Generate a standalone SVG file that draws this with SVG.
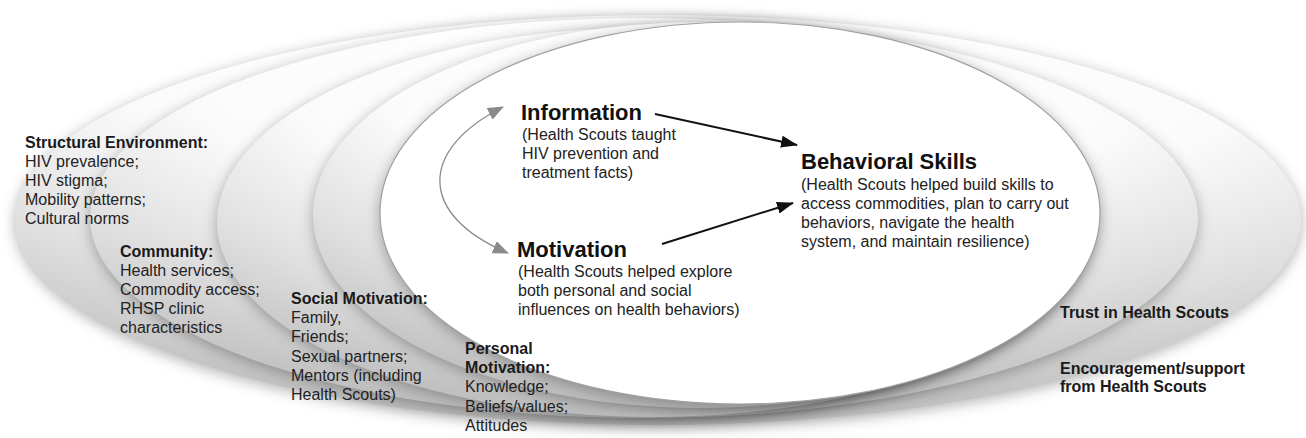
<svg xmlns="http://www.w3.org/2000/svg" width="1306" height="438" viewBox="0 0 1306 438">
  <defs>
    <style>
      text { font-family: "Liberation Sans", Arial, sans-serif; fill: #222; }
      .lbl { font-size: 16px; }
      .side { font-size: 16px; }
      .hd { font-weight: bold; fill: #1a1a1a; }
      .ttl { font-size: 22px; font-weight: bold; fill: #111; }
      .desc { font-size: 16px; }
      .ring { fill: url(#ringFill); filter: url(#ringShadow); }
      .core { fill: #ffffff; stroke: #a0a0a0; stroke-width: 1.2; filter: url(#ringShadow); }
      .link { fill: none; stroke: #111; stroke-width: 2; marker-end: url(#headBlack); }
      .loop { fill: none; stroke: #8a8a8a; stroke-width: 1.3; marker-start: url(#headGray); marker-end: url(#headGray); }
    </style>
    <!-- glossy ring fill: bright near the top, greying toward the lower rim -->
    <radialGradient id="ringFill" cx="0.55" cy="0.1" r="0.9" fx="0.5" fy="0.05">
      <stop offset="0" stop-color="#ffffff"/>
      <stop offset="0.5" stop-color="#fbfbfb"/>
      <stop offset="0.75" stop-color="#e0e0e0"/>
      <stop offset="1" stop-color="#bdbdbd"/>
    </radialGradient>
    <filter id="ringShadow" x="-5%" y="-10%" width="110%" height="125%" color-interpolation-filters="sRGB">
      <feGaussianBlur in="SourceAlpha" stdDeviation="7"/>
      <feOffset dx="0" dy="3" result="blur"/>
      <feFlood flood-color="#000" flood-opacity="0.3"/>
      <feComposite in2="blur" operator="in"/>
      <feMerge>
        <feMergeNode/>
        <feMergeNode in="SourceGraphic"/>
      </feMerge>
    </filter>
    <marker id="headBlack" viewBox="0 0 17 12" refX="16" refY="6" markerWidth="17" markerHeight="12" markerUnits="userSpaceOnUse" orient="auto">
      <path d="M0,0 L17,6 L0,12 z" fill="#111"/>
    </marker>
    <marker id="headGray" viewBox="0 0 16 13" refX="15" refY="6.5" markerWidth="16" markerHeight="13" markerUnits="userSpaceOnUse" orient="auto-start-reverse">
      <path d="M0,0 L16,6.5 L0,13 z" fill="#8a8a8a"/>
    </marker>
  </defs>

  <rect width="1306" height="438" fill="#ffffff"/>

  <!-- nested influence rings, outermost first -->
  <g id="rings">
    <ellipse id="ring-structural" class="ring" cx="658" cy="220" rx="643" ry="205"/>
    <ellipse id="ring-community" class="ring" cx="644" cy="218" rx="554" ry="200"/>
    <ellipse id="ring-social" class="ring" cx="653" cy="222" rx="436" ry="195"/>
    <ellipse id="ring-personal" class="ring" cx="701" cy="215" rx="388" ry="193"/>
    <ellipse id="ring-core" class="core" cx="740" cy="213" rx="360" ry="191"/>
  </g>

  <!-- connectors -->
  <g id="connectors">
    <line class="link" x1="655" y1="114" x2="797" y2="145"/>
    <line class="link" x1="662" y1="244" x2="793" y2="203"/>
    <path class="loop" d="M503,107 C418,150 418,215 508,253"/>
  </g>

  <g id="structural-environment">
    <text class="lbl hd" x="25" y="148">Structural Environment:</text>
    <text class="lbl" x="25" y="167">HIV prevalence;</text>
    <text class="lbl" x="25" y="186">HIV stigma;</text>
    <text class="lbl" x="25" y="205">Mobility patterns;</text>
    <text class="lbl" x="25" y="224">Cultural norms</text>
  </g>

  <g id="community">
    <text class="lbl hd" x="120" y="257">Community:</text>
    <text class="lbl" x="120" y="276">Health services;</text>
    <text class="lbl" x="120" y="295">Commodity access;</text>
    <text class="lbl" x="120" y="314">RHSP clinic</text>
    <text class="lbl" x="120" y="333">characteristics</text>
  </g>

  <g id="social-motivation">
    <text class="lbl hd" x="291" y="304">Social Motivation:</text>
    <text class="lbl" x="291" y="323">Family,</text>
    <text class="lbl" x="291" y="342">Friends;</text>
    <text class="lbl" x="291" y="362">Sexual partners;</text>
    <text class="lbl" x="291" y="381">Mentors (including</text>
    <text class="lbl" x="291" y="400">Health Scouts)</text>
  </g>

  <g id="personal-motivation">
    <text class="lbl hd" x="465" y="354">Personal</text>
    <text class="lbl hd" x="465" y="373">Motivation:</text>
    <text class="lbl" x="465" y="392">Knowledge;</text>
    <text class="lbl" x="465" y="412">Beliefs/values;</text>
    <text class="lbl" x="465" y="431">Attitudes</text>
  </g>

  <g id="information">
    <text class="ttl" x="521" y="120">Information</text>
    <text class="desc" x="522" y="140">(Health Scouts taught</text>
    <text class="desc" x="522" y="159">HIV prevention and</text>
    <text class="desc" x="522" y="178">treatment facts)</text>
  </g>

  <g id="motivation">
    <text class="ttl" x="517" y="257">Motivation</text>
    <text class="desc" x="518" y="277">(Health Scouts helped explore</text>
    <text class="desc" x="518" y="296">both personal and social</text>
    <text class="desc" x="518" y="315">influences on health behaviors)</text>
  </g>

  <g id="behavioral-skills">
    <text class="ttl" x="801" y="169">Behavioral Skills</text>
    <text class="desc" x="801" y="190">(Health Scouts helped build skills to</text>
    <text class="desc" x="801" y="209">access commodities, plan to carry out</text>
    <text class="desc" x="801" y="228">behaviors, navigate the health</text>
    <text class="desc" x="801" y="247">system, and maintain resilience)</text>
  </g>

  <g id="trust">
    <text class="side hd" x="1060" y="318">Trust in Health Scouts</text>
  </g>

  <g id="encouragement">
    <text class="side hd" x="1060" y="374">Encouragement/support</text>
    <text class="side hd" x="1060" y="392">from Health Scouts</text>
  </g>
</svg>
